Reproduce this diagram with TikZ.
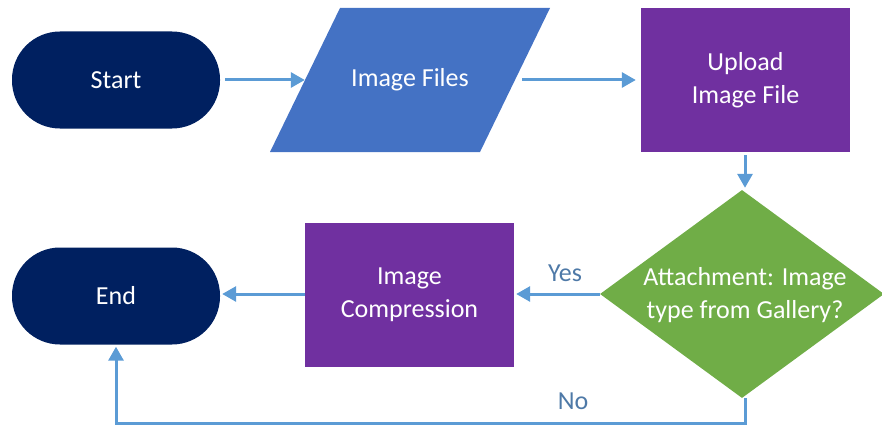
\documentclass[tikz,border=0pt]{standalone}
\usepackage{fontspec}
\setmainfont{Carlito}
\usetikzlibrary{shapes.geometric,arrows.meta,calc,backgrounds}
\definecolor{navy}{HTML}{002060}
\definecolor{fileblue}{HTML}{4472C4}
\definecolor{purp}{HTML}{7030A0}
\definecolor{grn}{HTML}{70AD47}
\definecolor{arrowc}{HTML}{5B9BD5}
\definecolor{labelc}{HTML}{4E79A7}
\tikzset{
  lbl/.style={font=\fontsize{26}{33}\selectfont, text=white, align=center},
  term/.style={lbl, fill=navy, rounded corners=48pt, minimum width=208pt, minimum height=97pt, inner sep=0pt},
  proc/.style={lbl, fill=purp, minimum width=209pt, minimum height=144pt, inner sep=0pt},
  io/.style={lbl, minimum width=210pt, minimum height=144pt, inner sep=0pt},
  dec/.style={lbl, diamond, fill=grn, aspect=1.365, minimum width=284pt, minimum height=208pt, inner sep=0pt},
  conn/.style={draw=arrowc, line width=3pt, -{Triangle[length=14pt,width=15pt]}},
  yn/.style={font=\fontsize{26}{30}\selectfont, text=labelc}
}
\begin{document}
\begin{tikzpicture}[x=1pt,y=-1pt]
\useasboundingbox (0,0) rectangle (882,425);
\node[term] (start) at (116,80) {Start};
\node[io] (files) at (410,80) {Image Files};
\begin{scope}[on background layer]
\fill[fileblue] ($(files.center)+(-140,72)$) -- ++(210,0) -- ++(70,-144) -- ++(-210,0) -- cycle;
\end{scope}
\node[proc] (upload) at (745.5,80) {Upload\\Image File};
\node[dec] (check) at (742,294) {};
\node[lbl] (checktxt) at (745,295) {Attachment: Image\\type from Gallery?};
\node[proc] (compress) at (409.5,295) {Image\\Compression};
\node[term] (end) at (116,296) {End};
\coordinate (low) at (745,423);
\node[yn] (yes) at (565,273) {Yes};
\node[yn] (no) at (573,401) {No};
\draw[conn, shorten <=5pt] (start.east) -- (files.west |- start.east);
\draw[conn, shorten <=7pt, shorten >=5pt] (files.east |- start.east) -- (upload.west |- start.east);
\draw[conn, shorten <=3pt, shorten >=2pt] (upload.south -| low) -- (check.north -| low);
\draw[conn, shorten >=2pt] (check.west) -- (compress.east |- check.west);
\draw[conn, shorten >=2pt] (compress.west |- check.west) -- (end.east |- check.west);
\draw[conn, shorten >=2pt] (check.south -| low) -- (low) -| (end.south);
\end{tikzpicture}
\end{document}
